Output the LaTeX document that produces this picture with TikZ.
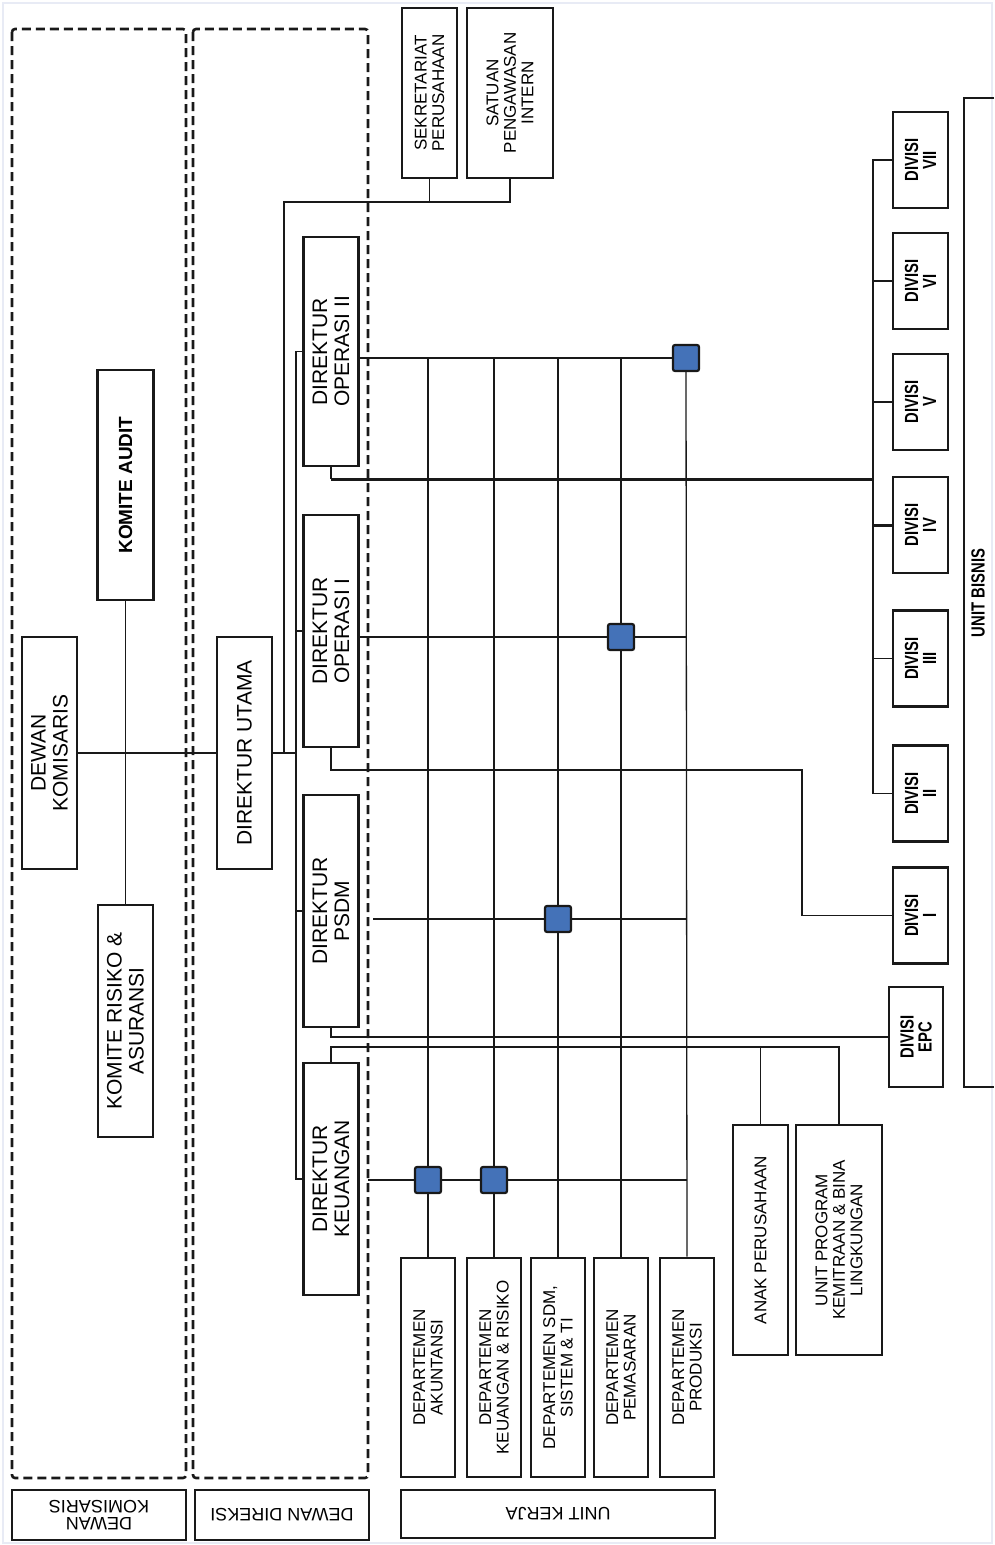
\documentclass[tikz,border=0pt]{standalone}
\usepackage{fontspec}
\setmainfont{Liberation Sans}
\newfontfamily\narrowsans[FakeStretch=0.78]{Liberation Sans}
\usetikzlibrary{backgrounds}
\definecolor{linegray}{RGB}{25,25,25}
\definecolor{markblue}{RGB}{68,114,184}
\definecolor{frameline}{RGB}{232,235,245}
\tikzset{
  orgbox/.style = {rectangle, draw=linegray, line width=2.6pt, rotate=90,
                   align=center, inner sep=0pt},
  bigbox/.style = {orgbox, minimum width=232pt, minimum height=55pt,
                   font=\fontsize{21}{22}\selectfont},
  smallbox/.style = {orgbox, minimum width=219pt, minimum height=54pt,
                   font=\fontsize{17}{17.5}\selectfont},
  divbox/.style = {orgbox, minimum width=96pt, minimum height=55pt,
                   font=\narrowsans\bfseries\fontsize{19}{18}\selectfont},
  footbox/.style = {rectangle, draw=linegray, line width=2.6pt, rotate=180,
                   align=center, minimum height=50pt, inner sep=0pt,
                   font=\fontsize{18}{17}\selectfont},
  orgmark/.style = {rectangle, draw=linegray, line width=2.2pt, fill=markblue,
                   rounded corners=2pt, minimum size=26pt, inner sep=0pt},
  orgline/.style = {draw=linegray, line width=1.3pt},
  orgthick/.style = {draw=linegray, line width=3pt},
  orgpanel/.style = {draw=linegray, line width=2.6pt, dash pattern=on 9pt off 5pt,
                   rounded corners=3pt}
}

\begin{document}
\begin{tikzpicture}[x=1pt, y=-1pt]
\useasboundingbox (0,0) rectangle (994,1545);
\draw[frameline, line width=1.5pt] (3,3) rectangle (992,1543);

\draw[orgpanel] (12,29) rectangle (186,1478);
\draw[orgpanel] (193,29) rectangle (368,1478);

\node[orgbox, minimum width=230pt, minimum height=56pt, font=\bfseries\fontsize{19}{22}\selectfont] (komaudit) at (125.5,485) {KOMITE AUDIT};
\node[bigbox] (dekom) at (49.5,753) {DEWAN\\KOMISARIS};
\node[bigbox] (komrisiko) at (125.5,1021) {KOMITE RISIKO \&\\ASURANSI};

\node[bigbox] (dirut) at (244.5,753) {DIREKTUR UTAMA};
\node[bigbox, minimum width=229pt] (dirop2) at (331,351.5) {DIREKTUR\\OPERASI II};
\node[bigbox] (dirop1) at (331,631) {DIREKTUR\\OPERASI I};
\node[bigbox] (dirpsdm) at (331,911) {DIREKTUR\\PSDM};
\node[bigbox] (dirkeu) at (331,1179) {DIREKTUR\\KEUANGAN};

\node[smallbox, minimum width=170pt, minimum height=55pt] (sekper) at (429.5,93) {SEKRETARIAT\\PERUSAHAAN};
\node[smallbox, minimum width=170pt, minimum height=86pt] (spi) at (510,93) {SATUAN\\PENGAWASAN\\INTERN};

\node[smallbox] (akt) at (428,1367.5) {DEPARTEMEN\\AKUNTANSI};
\node[smallbox] (keu) at (494,1367.5) {DEPARTEMEN\\KEUANGAN \& RISIKO};
\node[smallbox] (sdm) at (558,1367.5) {DEPARTEMEN SDM,\\SISTEM \& TI};
\node[smallbox] (pms) at (621,1367.5) {DEPARTEMEN\\PEMASARAN};
\node[smallbox] (prd) at (687,1367.5) {DEPARTEMEN\\PRODUKSI};

\node[smallbox, minimum width=230pt, minimum height=55pt] (anak) at (760.5,1240) {ANAK PERUSAHAAN};
\node[smallbox, minimum width=230pt, minimum height=86pt] (upk) at (839,1240) {UNIT PROGRAM\\KEMITRAAN \& BINA\\LINGKUNGAN};

\node[divbox] (div7) at (920.5,160) {DIVISI\\VII};
\node[divbox] (div6) at (920.5,281) {DIVISI\\VI};
\node[divbox] (div5) at (920.5,402) {DIVISI\\V};
\node[divbox] (div4) at (920.5,525) {DIVISI\\IV};
\node[divbox] (div3) at (920.5,658.5) {DIVISI\\III};
\node[divbox] (div2) at (920.5,793.5) {DIVISI\\II};
\node[divbox] (div1) at (920.5,915.5) {DIVISI\\I};
\node[divbox, minimum width=100pt, minimum height=54pt] (epc) at (916,1037) {DIVISI\\EPC};

\node[rotate=90, font=\narrowsans\bfseries\fontsize{19}{20}\selectfont] (unitbisnis) at (978,593) {UNIT BISNIS};
\coordinate (ubtop) at (964,98);
\coordinate (ubbot) at (964,1087);
\draw[linegray, line width=2.6pt] (ubtop -| 994,0) -- (ubtop) -- (ubbot) -- (ubbot -| 994,0);

\node[footbox, minimum width=174pt] (dekomfoot) at (99,1515) {DEWAN\\KOMISARIS};
\node[footbox, minimum width=174pt] (dirfoot) at (282,1515) {DEWAN DIREKSI};
\node[footbox, minimum width=314pt, minimum height=48pt] (ukfoot) at (558,1514) {UNIT KERJA};

\node[orgmark] (m5) at (686,358) {};
\node[orgmark] (m4) at (621,637) {};
\node[orgmark] (m3) at (558,919) {};
\node[orgmark] (m1) at (428,1180) {};
\node[orgmark] (m2) at (494,1180) {};

\coordinate (dirbus) at (296,753);
\coordinate (sekjoin) at (284,202);
\coordinate (opjoin) at (873,479);
\coordinate (div1turn) at (802,770);
\coordinate (keujoin) at (839,1047);
\coordinate (psdmend) at (373,919);
\coordinate (keuend) at (368,1180);

\begin{scope}[on background layer]
\draw[orgline] (dekom.south) -- (dirut.north);
\draw[orgline] (komaudit.west) -- (komrisiko.east);
\draw[orgline] (dirut.south) -- (dirbus);
\draw[orgline] (spi.west) |- (sekjoin) -- (sekjoin |- dirut.south);
\draw[orgline] (sekper.west) -- (sekper.west |- sekjoin);
\draw[orgline] (dirop2.north) -- (dirop2.north -| dirbus) -- (dirkeu.north -| dirbus) -- (dirkeu.north);
\draw[orgline] (dirop1.north) -- (dirop1.north -| dirbus);
\draw[orgline] (dirpsdm.north) -- (dirpsdm.north -| dirbus);

\draw[orgline] (dirop2.south |- m5) -- (m5);
\draw[orgline] (dirop1.south |- m4) -- (prd.east |- m4);
\draw[orgline] (psdmend) -- (prd.east |- psdmend);
\draw[orgline] (keuend) -- (prd.east |- keuend);
\draw[orgline] (akt.east) -- (akt.east |- m5);
\draw[orgline] (keu.east) -- (keu.east |- m5);
\draw[orgline] (sdm.east) -- (sdm.east |- m5);
\draw[orgline] (pms.east) -- (pms.east |- m5);
\draw[orgline] (prd.east) -- (m5);

\draw[orgline] (dirop2.west) -- (dirop2.west |- opjoin);
\draw[orgthick] (dirop2.west |- opjoin) -- (opjoin);
\draw[orgline] (div7.north) -- (div7.north -| opjoin) -- (div2.north -| opjoin) -- (div2.north);
\draw[orgline] (div6.north) -- (div6.north -| opjoin);
\draw[orgline] (div5.north) -- (div5.north -| opjoin);
\draw[orgthick] (div4.north) -- (div4.north -| opjoin);
\draw[orgline] (div3.north) -- (div3.north -| opjoin);
\draw[orgline] (dirop1.west) |- (div1turn) |- (div1.north);
\draw[orgline] (dirpsdm.west) |- (epc.north);
\draw[orgline] (dirkeu.east) |- (keujoin) -- (upk.east);
\draw[orgline] (anak.east) -- (anak.east |- keujoin);
\end{scope}
\end{tikzpicture}
\end{document}
